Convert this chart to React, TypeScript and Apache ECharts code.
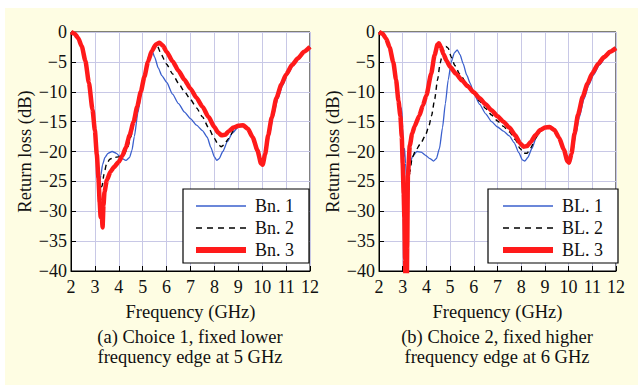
import React, { useEffect, useRef } from "react";
import * as echarts from "echarts";

type P = [number, number];

const xTicks = { min: 2, max: 12, interval: 1 };
const yTicks = { min: -40, max: 0, interval: 5 };

const legendA = ["Bn. 1", "Bn. 2", "Bn. 3"];
const legendB = ["BL. 1", "BL. 2", "BL. 3"];

const xName = "Frequency (GHz)";
const yName = "Return loss (dB)";
const captionA = ["(a) Choice 1, fixed lower", "frequency edge at 5 GHz"];
const captionB = ["(b) Choice 2, fixed higher", "frequency edge at 6 GHz"];

// ---- Plot (a) ----
const bn1: P[] = [
  [2.0, 0], [2.15, -0.3], [2.3, -1.0], [2.45, -2.4], [2.6, -4.8], [2.75, -8.5], [2.9, -13], [3.0, -16.5],
  [3.08, -20.5], [3.15, -24], [3.2, -25], [3.25, -24], [3.32, -22.2], [3.42, -21], [3.55, -20.3], [3.72, -20],
  [3.9, -20.3], [4.1, -21.1], [4.3, -21.5], [4.45, -21], [4.55, -19.8], [4.65, -17.5], [4.8, -13.5], [4.95, -10],
  [5.1, -6.8], [5.25, -4], [5.38, -3.0], [5.5, -4.2], [5.65, -6], [5.8, -7.3], [6.0, -8.4], [6.25, -10.4],
  [6.5, -12], [6.75, -13.4], [7.0, -14.5], [7.25, -15.6], [7.5, -16.5], [7.7, -17.6], [7.85, -19.3], [8.0, -20.9],
  [8.1, -21.5], [8.2, -21.2], [8.35, -20], [8.55, -18.3], [8.75, -16.9], [9.0, -15.9], [9.2, -15.7], [9.4, -16.3],
  [9.6, -17.7], [9.8, -19.9], [9.97, -22], [10.04, -22.3], [10.15, -20.5], [10.3, -17.3], [10.45, -14.3],
  [10.65, -11.2], [10.85, -9], [11.05, -7.2], [11.3, -5.6], [11.55, -4.4], [11.8, -3.3], [12.0, -2.6],
];
const bn2: P[] = [
  [2.0, 0], [2.15, -0.3], [2.3, -1.0], [2.45, -2.4], [2.6, -4.8], [2.75, -8.5], [2.9, -13], [3.0, -16.5],
  [3.08, -20.5], [3.15, -24], [3.22, -26], [3.3, -25.8], [3.38, -23.8], [3.48, -22.2], [3.62, -21.3], [3.8, -21],
  [4.0, -20.9], [4.2, -20.6], [4.35, -19.6], [4.5, -17.6], [4.65, -15], [4.8, -12.5], [4.95, -9.8], [5.1, -7],
  [5.25, -4.6], [5.4, -3], [5.53, -2.4], [5.62, -2.4], [5.75, -3.5], [5.9, -4.6], [6.0, -5.4], [6.25, -7],
  [6.5, -8.6], [6.75, -10], [7.0, -11.3], [7.25, -12.7], [7.5, -14.2], [7.75, -16], [8.0, -17.8], [8.15, -18.8],
  [8.28, -19.2], [8.4, -18.9], [8.6, -17.8], [8.8, -16.5], [9.0, -15.8], [9.2, -15.6], [9.4, -16.2], [9.6, -17.6],
  [9.8, -19.8], [9.96, -22], [10.03, -22.2], [10.13, -20.5], [10.27, -17.3], [10.42, -14.3], [10.62, -11],
  [10.82, -8.8], [11.02, -7.1], [11.27, -5.5], [11.52, -4.4], [11.77, -3.3], [12.0, -2.5],
];
const bn3: P[] = [
  [2.0, 0], [2.15, -0.3], [2.3, -1.0], [2.45, -2.4], [2.6, -4.8], [2.75, -8.5], [2.9, -13], [3.0, -16.5],
  [3.08, -20.5], [3.15, -24.5], [3.2, -28.5], [3.24, -31], [3.28, -29.5], [3.32, -32.7], [3.36, -29], [3.4, -26.8],
  [3.5, -24.8], [3.65, -23.4], [3.8, -22.6], [4.0, -21.7], [4.15, -20.7], [4.3, -19.3], [4.45, -17.3], [4.62, -15],
  [4.77, -12.5], [4.92, -10], [5.07, -7.5], [5.22, -5], [5.38, -3.2], [5.55, -2.1], [5.7, -1.8], [5.85, -2.3],
  [6.0, -3.3], [6.25, -4.9], [6.5, -6.5], [6.75, -8], [7.0, -9.5], [7.25, -11], [7.5, -12.5], [7.75, -14.2],
  [8.0, -15.9], [8.15, -16.8], [8.3, -17.3], [8.45, -17.2], [8.6, -16.6], [8.8, -16], [9.0, -15.7], [9.2, -15.6],
  [9.4, -16.2], [9.6, -17.6], [9.8, -19.8], [9.95, -22], [10.02, -22.2], [10.12, -20.5], [10.25, -17.3],
  [10.4, -14.3], [10.6, -11], [10.8, -8.8], [11.0, -7.1], [11.25, -5.5], [11.5, -4.4], [11.75, -3.3], [12.0, -2.5],
];

// ---- Plot (b) ----
const bl1: P[] = [
  [2.0, 0], [2.15, -0.3], [2.3, -1.1], [2.45, -2.6], [2.6, -5], [2.72, -8], [2.82, -11], [2.9, -12.5],
  [2.96, -13], [3.0, -16], [3.04, -21], [3.08, -19.5], [3.12, -22], [3.18, -26], [3.22, -24.5], [3.3, -22],
  [3.42, -20.8], [3.6, -20], [3.78, -20.1], [3.95, -20.6], [4.15, -21.2], [4.3, -21.6], [4.42, -21.2], [4.55, -19.5],
  [4.68, -16], [4.8, -12], [4.92, -8], [5.05, -5], [5.18, -3.5], [5.3, -3.0], [5.42, -3.8], [5.55, -5.3],
  [5.7, -7.2], [5.85, -8.6], [6.0, -10.3], [6.25, -12.1], [6.5, -13.7], [6.75, -15], [7.0, -15.9], [7.25, -16.6],
  [7.5, -17.4], [7.7, -18.5], [7.9, -20.2], [8.05, -21.4], [8.15, -21.6], [8.28, -21], [8.45, -19.5], [8.65, -17.5],
  [8.85, -16.4], [9.0, -16], [9.2, -15.9], [9.4, -16.4], [9.6, -17.7], [9.8, -19.7], [9.97, -21.6], [10.05, -22],
  [10.15, -20.6], [10.3, -17.2], [10.45, -14.3], [10.65, -11.2], [10.85, -8.9], [11.05, -7.2], [11.3, -5.5],
  [11.55, -4.3], [11.8, -3.3], [12.0, -2.8],
];
const bl2: P[] = [
  [2.0, 0], [2.15, -0.3], [2.3, -1.1], [2.45, -2.6], [2.6, -5], [2.72, -8], [2.82, -11.5], [2.9, -14],
  [2.96, -17.5], [3.0, -22], [3.06, -25], [3.12, -27], [3.18, -28], [3.23, -26.5], [3.3, -23.5], [3.4, -21],
  [3.55, -19.8], [3.75, -18.7], [3.95, -17.4], [4.1, -15.8], [4.22, -14], [4.35, -11.2], [4.47, -8], [4.58, -5.2],
  [4.7, -3.2], [4.82, -2.4], [4.92, -2.7], [5.05, -4.2], [5.2, -5.6], [5.4, -7], [5.7, -8.6], [6.0, -10.3],
  [6.25, -11.6], [6.5, -12.8], [6.75, -13.9], [7.0, -14.9], [7.25, -15.8], [7.5, -16.7], [7.75, -18], [7.95, -19.5],
  [8.12, -20.3], [8.25, -20.3], [8.4, -19.4], [8.6, -17.8], [8.8, -16.6], [9.0, -16.1], [9.2, -15.9], [9.4, -16.4],
  [9.6, -17.7], [9.8, -19.7], [9.96, -21.6], [10.03, -21.9], [10.13, -20.4], [10.27, -17], [10.42, -13.8],
  [10.62, -10.8], [10.82, -8.6], [11.02, -6.9], [11.27, -5.3], [11.52, -4.2], [11.77, -3.3], [12.0, -2.7],
];
const bl3: P[] = [
  [2.0, 0], [2.15, -0.3], [2.3, -1.1], [2.45, -2.6], [2.6, -5], [2.72, -8], [2.82, -11.5], [2.9, -14],
  [2.96, -17.5], [3.0, -22], [3.04, -27], [3.07, -31], [3.1, -38], [3.13, -45], [3.17, -45], [3.19, -36],
  [3.22, -24], [3.3, -19], [3.4, -17], [3.5, -15.8], [3.7, -14], [3.85, -12.3], [4.0, -10.6], [4.2, -7],
  [4.35, -3.8], [4.47, -2.1], [4.53, -1.9], [4.6, -2.4], [4.72, -3.7], [4.85, -4.8], [5.0, -5.8], [5.25, -7],
  [5.5, -8.1], [5.75, -9.1], [6.0, -10.1], [6.25, -11.1], [6.5, -12.1], [6.75, -13.1], [7.0, -14.1], [7.25, -15],
  [7.5, -16], [7.75, -17.3], [7.95, -18.6], [8.1, -19.2], [8.25, -19.1], [8.4, -18.4], [8.6, -17.3], [8.8, -16.4],
  [9.0, -16], [9.2, -15.9], [9.4, -16.4], [9.6, -17.7], [9.8, -19.7], [9.95, -21.6], [10.02, -21.9], [10.12, -20.4],
  [10.25, -17], [10.4, -13.8], [10.6, -10.8], [10.8, -8.6], [11.0, -6.9], [11.25, -5.3], [11.5, -4.2],
  [11.75, -3.3], [12.0, -2.7],
];

const FONT = "Liberation Serif";
const BLUE = "#3a5fcd";
const RED = "#ff1a1a";
const GRIDC = "#c8c8e6";

export default function App() {
  const ref = useRef<HTMLDivElement>(null);
  useEffect(() => {
    if (!ref.current) return;
    const chart = echarts.init(ref.current, null, { renderer: "svg" });
    const grids = [
      { left: 71, top: 32, width: 239, height: 239 },
      { left: 379, top: 32, width: 237, height: 239 },
    ];
    const mkX = (i: number) => ({
      type: "value",
      gridIndex: i,
      ...xTicks,
      name: xName,
      nameLocation: "middle",
      nameGap: 31,
      nameTextStyle: { fontFamily: FONT, fontSize: 18.5, color: "#111" },
      axisLine: { show: true, onZero: false, lineStyle: { color: "#000", width: 1 } },
      axisTick: { show: true, inside: true, length: 5, lineStyle: { color: "#000" } },
      axisLabel: { fontFamily: FONT, fontSize: 18, color: "#111", margin: 7 },
      splitLine: { show: true, lineStyle: { color: GRIDC, width: 1 } },
    });
    const mkY = (i: number, gap: number) => ({
      type: "value",
      gridIndex: i,
      ...yTicks,
      name: yName,
      nameLocation: "middle",
      nameGap: gap,
      nameTextStyle: { fontFamily: FONT, fontSize: 18.5, color: "#111" },
      axisLine: { show: true, onZero: false, lineStyle: { color: "#000", width: 1 } },
      axisTick: { show: true, inside: true, length: 5, lineStyle: { color: "#000" } },
      axisLabel: {
        fontFamily: FONT,
        fontSize: 18,
        color: "#111",
        margin: 4,
        formatter: (v: number) => (v === 0 ? "0" : "\u2212" + Math.abs(v)),
      },
      splitLine: { show: true, lineStyle: { color: GRIDC, width: 1 } },
    });
    const styles = [
      { color: BLUE, width: 1.3, type: "solid" as const },
      { color: "#000", width: 1.4, type: [5, 4] as any },
      { color: RED, width: 4.5, type: "solid" as const },
    ];
    const mkSeries = (names: string[], datas: P[][], idx: number) =>
      names.map((n, k) => ({
        name: n,
        type: "line",
        xAxisIndex: idx,
        yAxisIndex: idx,
        data: datas[k],
        symbol: "none",
        showSymbol: false,
        smooth: 0.2,
        smoothMonotone: "x",
        clip: true,
        lineStyle: { ...styles[k] },
        itemStyle: { color: styles[k].color },
        z: 2 + k,
      }));
    const mkLegend = (names: string[], left: number, padL: number) => ({
      data: names.map((n, k) => ({
        name: n,
        itemStyle: { opacity: 0, color: "transparent", borderWidth: 0 },
        lineStyle: k === 2 ? { width: 6, opacity: 1 } : k === 1 ? { width: 1.6, type: [6, 5], opacity: 1 } : { width: 1.5, opacity: 1 },
      })),
      orient: "vertical",
      left,
      top: 189,
      itemWidth: 50,
      itemHeight: 18,
      itemGap: 4,
      padding: [8, 15, 4, padL],
      backgroundColor: "#fff",
      borderColor: "#000",
      borderWidth: 1.2,
      borderRadius: 0,
      itemStyle: { opacity: 0, color: "transparent", borderWidth: 0 },
      textStyle: { fontFamily: FONT, fontSize: 18, color: "#111", padding: [0, 0, 0, 4] },
      selectedMode: false,
    });
    const cap = (x: number, y: number, t: string) => ({
      type: "text",
      x,
      y,
      style: {
        text: t,
        fontFamily: FONT,
        fontSize: 18.5,
        fill: "#111",
        align: "center",
        verticalAlign: "middle",
      },
    });
    chart.setOption({
      animation: false,
      backgroundColor: "transparent",
      grid: grids.map((g) => ({
        ...g,
        show: true,
        backgroundColor: "#fff",
        borderColor: "#000",
        borderWidth: 1,
        containLabel: false,
      })),
      xAxis: [mkX(0), mkX(1)],
      yAxis: [mkY(0, 34), mkY(1, 36)],
      legend: [mkLegend(legendA, 183, 10), mkLegend(legendB, 488, 12)],
      series: [...mkSeries(legendA, [bn1, bn2, bn3], 0), ...mkSeries(legendB, [bl1, bl2, bl3], 1)],
      graphic: [
        cap(190, 337, captionA[0]),
        cap(190, 357, captionA[1]),
        cap(497, 337, captionB[0]),
        cap(497, 357, captionB[1]),
      ],
    });
    return () => chart.dispose();
  }, []);
  return (
    <div style={{ position: "fixed", left: 0, top: 0, width: 638, height: 385, background: "#fff" }}>
      <div style={{ position: "absolute", left: 5, top: 8, right: 0, bottom: 0, background: "#fefde3" }} />
      <div ref={ref} style={{ position: "absolute", left: 0, top: 0, width: 638, height: 385 }} />
    </div>
  );
}
